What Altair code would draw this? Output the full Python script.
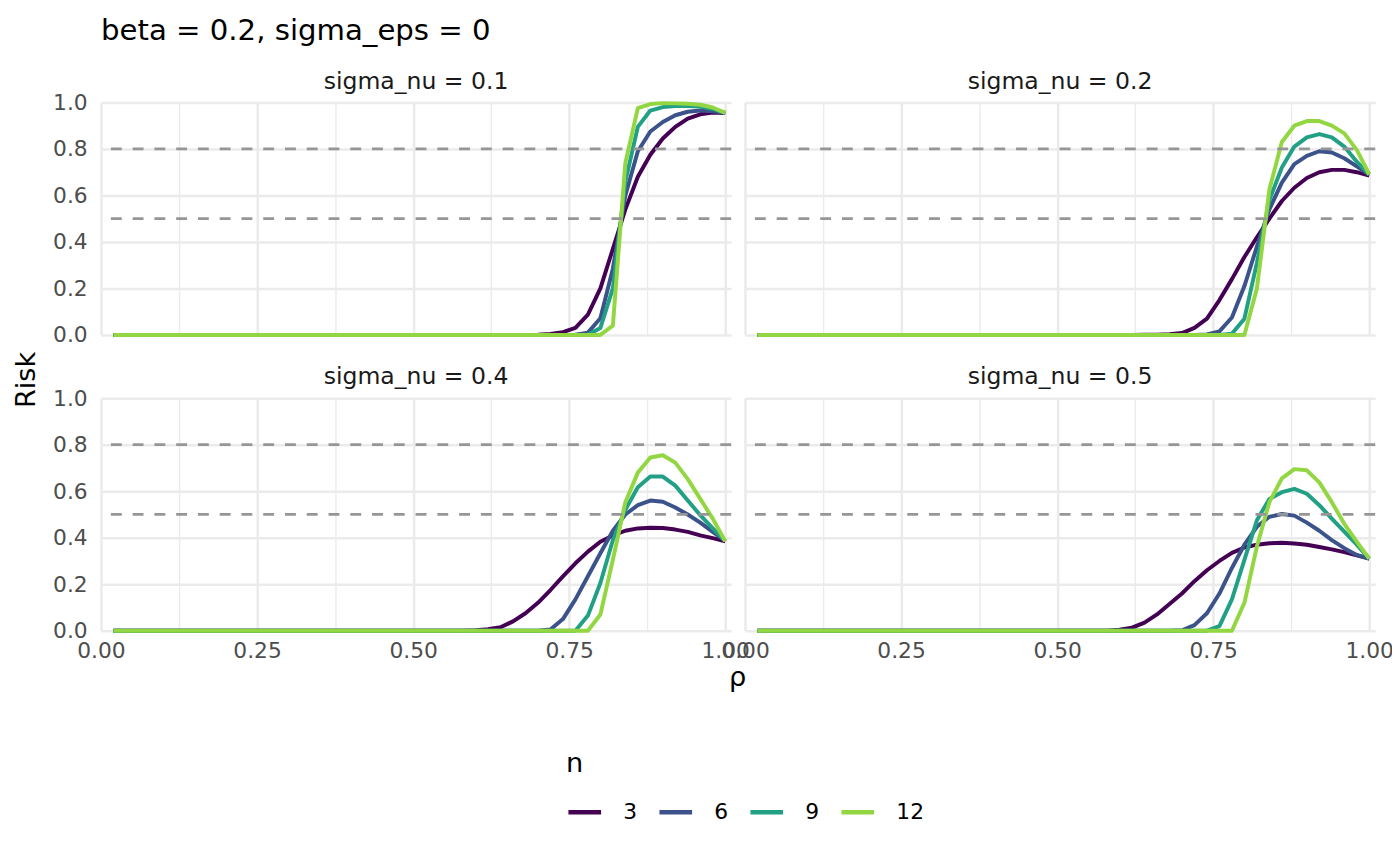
import altair as alt
import pandas as pd

# ---------------- data ----------------
RHO = [round(0.02 * i, 2) for i in range(1, 51)]          # 0.02 ... 1.00
N_LEVELS = ["3", "6", "9", "12"]
PANELS = ["sigma_nu = 0.1", "sigma_nu = 0.2", "sigma_nu = 0.4", "sigma_nu = 0.5"]
COLORS = ["#440154", "#3B528B", "#21A085", "#92D742"]

# Risk for rho = 0.60, 0.62, ..., 1.00 (values for rho < 0.60 read as 0)
LEAD_ZEROS = 29
A3 = [0, 0, 0, 0, 0, 0.001, 0.004, 0.012, 0.03, 0.087, 0.20, 0.37, 0.54, 0.68, 0.775, 0.845, 0.895, 0.93, 0.949, 0.957, 0.954]
A6 = [0, 0, 0, 0, 0, 0, 0, 0, 0.001, 0.01, 0.072, 0.285, 0.60, 0.79, 0.875, 0.916, 0.945, 0.96, 0.965, 0.962, 0.955]
A9 = [0, 0, 0, 0, 0, 0, 0, 0, 0, 0.001, 0.03, 0.20, 0.66, 0.895, 0.965, 0.98, 0.985, 0.985, 0.982, 0.972, 0.955]
A12 = [0, 0, 0, 0, 0, 0, 0, 0, 0, 0, 0, 0.04, 0.74, 0.975, 0.993, 0.997, 0.996, 0.994, 0.99, 0.978, 0.955]

B3 = [0, 0, 0.001, 0.001, 0.003, 0.008, 0.03, 0.07, 0.15, 0.24, 0.335, 0.42, 0.50, 0.576, 0.633, 0.675, 0.70, 0.71, 0.71, 0.70, 0.685]
B6 = [0, 0, 0, 0, 0, 0, 0, 0.002, 0.015, 0.075, 0.21, 0.38, 0.54, 0.655, 0.735, 0.77, 0.79, 0.785, 0.76, 0.725, 0.69]
B9 = [0, 0, 0, 0, 0, 0, 0, 0, 0, 0.005, 0.07, 0.31, 0.58, 0.72, 0.81, 0.85, 0.864, 0.85, 0.81, 0.745, 0.69]
B12 = [0, 0, 0, 0, 0, 0, 0, 0, 0, 0, 0, 0.20, 0.625, 0.83, 0.90, 0.92, 0.92, 0.90, 0.867, 0.796, 0.69]

C3 = [0.002, 0.006, 0.015, 0.04, 0.075, 0.12, 0.175, 0.234, 0.29, 0.34, 0.383, 0.41, 0.43, 0.44, 0.443, 0.442, 0.435, 0.425, 0.41, 0.398, 0.385]
C6 = [0, 0, 0, 0, 0, 0, 0.005, 0.05, 0.135, 0.234, 0.333, 0.43, 0.50, 0.54, 0.56, 0.555, 0.53, 0.50, 0.465, 0.425, 0.387]
C9 = [0, 0, 0, 0, 0, 0, 0, 0, 0, 0.065, 0.205, 0.39, 0.52, 0.617, 0.663, 0.663, 0.624, 0.56, 0.497, 0.44, 0.385]
C12 = [0, 0, 0, 0, 0, 0, 0, 0, 0, 0, 0.07, 0.305, 0.553, 0.68, 0.745, 0.755, 0.723, 0.652, 0.567, 0.482, 0.385]

D3 = [0.004, 0.013, 0.035, 0.07, 0.115, 0.16, 0.213, 0.26, 0.30, 0.335, 0.358, 0.37, 0.376, 0.378, 0.375, 0.37, 0.36, 0.35, 0.338, 0.324, 0.31]
D6 = [0, 0, 0, 0, 0, 0.002, 0.024, 0.075, 0.16, 0.27, 0.37, 0.447, 0.49, 0.502, 0.495, 0.465, 0.43, 0.39, 0.355, 0.326, 0.31]
D9 = [0, 0, 0, 0, 0, 0, 0, 0, 0.02, 0.135, 0.305, 0.475, 0.567, 0.596, 0.61, 0.589, 0.54, 0.482, 0.426, 0.37, 0.31]
D12 = [0, 0, 0, 0, 0, 0, 0, 0, 0, 0, 0.12, 0.362, 0.553, 0.655, 0.695, 0.69, 0.638, 0.553, 0.46, 0.383, 0.31]

SERIES = {
    PANELS[0]: [A3, A6, A9, A12],
    PANELS[1]: [B3, B6, B9, B12],
    PANELS[2]: [C3, C6, C9, C12],
    PANELS[3]: [D3, D6, D9, D12],
}
THRESHOLDS = [0.5, 0.8]
X_TICKS = [0, 0.125, 0.25, 0.375, 0.5, 0.625, 0.75, 0.875, 1.0]
Y_TICKS = [0, 0.1, 0.2, 0.3, 0.4, 0.5, 0.6, 0.7, 0.8, 0.9, 1.0]

rows = []
for p, lists in SERIES.items():
    for n, vals in zip(N_LEVELS, lists):
        full = [0.0] * LEAD_ZEROS + vals
        for r, v in zip(RHO, full):
            rows.append({"panel": p, "n": n, "rho": r, "risk": v})
df = pd.DataFrame(rows)
thr = pd.DataFrame({"y": THRESHOLDS})

FONT = "DejaVu Sans"
W, H = 637, 235
XMAX = 1.0095

def grid_w(test):
    return {"condition": {"test": test, "value": 1.4}, "value": 2.6}

def panel(name, bottom, left, first):
    xt = "round(datum.value*8) % 2 == 1"
    yt = "round(datum.value*10) % 2 == 1"
    xaxis = alt.Axis(
        values=X_TICKS, grid=True, ticks=False, domain=False,
        labels=bottom, labelExpr=f"{xt} ? '' : format(datum.value, '.2f')",
        labelFont=FONT, labelFontSize=22, labelColor="#4D4D4D", labelPadding=10,
        labelOverlap=False, labelFlush=False,
        gridColor="#EBEBEB", gridWidth=grid_w(xt),
        title="ρ" if (bottom and left) else None,
        titleFont=FONT, titleFontSize=27.5, titleFontWeight="normal", titleColor="#000000",
        titleX=643, titlePadding=2,
    )
    yaxis = alt.Axis(
        values=Y_TICKS, grid=True, ticks=False, domain=False,
        labels=left, labelExpr=f"{yt} ? '' : format(datum.value, '.1f')",
        labelFont=FONT, labelFontSize=22, labelColor="#4D4D4D", labelPadding=14,
        labelOverlap=False,
        gridColor="#EBEBEB", gridWidth=grid_w(yt),
        title="Risk" if first else None,
        titleFont=FONT, titleFontSize=27.5, titleFontWeight="normal", titleColor="#000000",
        titleY=280, titlePadding=12,
    )
    legend = alt.Legend(
        title="n", orient="none", legendX=470, legendY=655, direction="horizontal",
        titleOrient="top", symbolType="stroke", symbolStrokeWidth=4.5, symbolSize=1089,
        labelFont=FONT, labelFontSize=22, labelColor="#000000", labelOffset=20,
        titleFont=FONT, titleFontSize=27.5, titleFontWeight="normal", titleColor="#000000",
        titlePadding=16, columnPadding=13,
    ) if first else None
    lines = alt.Chart(df[df.panel == name]).mark_line(
        strokeWidth=4, strokeCap="butt", strokeJoin="round"
    ).encode(
        x=alt.X("rho:Q", scale=alt.Scale(domain=[0, XMAX], nice=False, zero=False), axis=xaxis),
        y=alt.Y("risk:Q", scale=alt.Scale(domain=[0, 1], nice=False), axis=yaxis),
        color=alt.Color("n:N", scale=alt.Scale(domain=N_LEVELS, range=COLORS), legend=legend),
    )
    rules = alt.Chart(thr).mark_rule(
        strokeDash=[11, 11], color="#969696", strokeWidth=2.8
    ).encode(y=alt.Y("y:Q", scale=alt.Scale(domain=[0, 1], nice=False)))
    strip = alt.Chart(pd.DataFrame({"label": [name]})).mark_text(
        font=FONT, fontSize=23.8, color="#1A1A1A", align="center", baseline="middle"
    ).encode(text="label:N", x=alt.value(W / 2), y=alt.value(-21))
    return alt.layer(lines, rules, strip).properties(width=W, height=H)

chart = alt.concat(
    panel(PANELS[0], False, True, True), panel(PANELS[1], False, False, False),
    panel(PANELS[2], True, True, False), panel(PANELS[3], True, False, False),
    columns=2, spacing={"row": 64, "column": 14}, bounds="flush",
).properties(
    title=alt.TitleParams("beta = 0.2, sigma_eps = 0", anchor="start", font=FONT,
                          fontSize=29.5, fontWeight="normal", color="#000000", offset=24,
                          frame="group"),
    padding={"left": 5, "top": 3, "right": -2, "bottom": 3},
).configure_view(stroke=None)

chart.save("out.html", embed_options={"renderer": "svg", "actions": False})
